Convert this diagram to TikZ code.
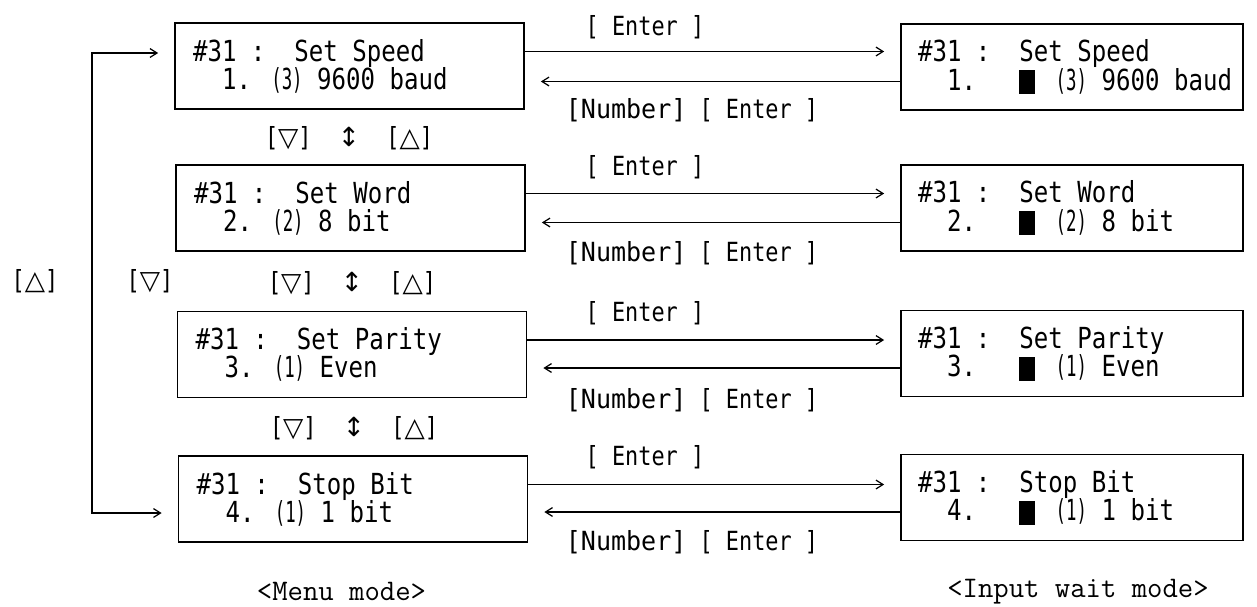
\documentclass[tikz,border=0pt]{standalone}
\usepackage{fontspec}
\usetikzlibrary{arrows.meta}
\newfontfamily\lcdfont[FakeStretch=0.83]{DejaVu Sans Mono}
\newfontfamily\lcdwide[FakeStretch=0.95]{DejaVu Sans Mono}
\newfontfamily\lcdnarrow[FakeStretch=0.6]{DejaVu Sans Mono}
\newfontfamily\symfont{DejaVu Sans}
\newcommand{\lcdsize}[1]{\lcdfont\fontsize{#1}{16}\selectfont\spaceskip=0.5em\relax}
\newcommand{\cursorblk}{\rule[-0.14em]{0.55em}{0.83em}}
\newcommand{\pnum}[1]{\hspace*{0.7em}{\lcdnarrow(#1)}~}
\newcommand{\tridown}{{\symfont ▽}}
\newcommand{\triup}{{\symfont △}}
\newcommand{\udarr}{{\symfont ↕}}
\begin{document}
\begin{tikzpicture}[x=0.02cm, y=-0.02cm,
  >={Straight Barb[length=4pt,width=5pt]},
  menubox/.style={draw, line width=1pt, minimum height=1.72cm, text width=6.26cm,
    inner xsep=0.36cm, inner ysep=0pt, align=left, font=\lcdsize{16.5},
    execute at begin node={\spaceskip=0.5em\relax}},
  waitbox/.style={menubox, text width=6.16cm, inner xsep=0.34cm},
  keylabel/.style={font=\lcdsize{15}, inner sep=0pt},
  movelabel/.style={font=\lcdsize{15}, inner sep=0pt},
  modelabel/.style={font=\ttfamily\fontsize{17}{18}\selectfont, inner sep=0pt},
  flow/.style={->, line width=0.7pt, shorten >=0.32cm},
]
\useasboundingbox (0,0) rectangle (1257,606);

% Menu mode screens
\node[menubox] (m1) at (349.5,66) {\#31 :~~Set Speed\\\hspace*{1em}1.\pnum{3}9600~baud};
\node[menubox] (m2) at (350.5,208) {\#31 :~~Set Word\\\hspace*{1em}2.\pnum{2}8~bit};
\node[menubox] (m3) at (352,354.5) {\#31 :~~Set Parity\\\hspace*{1em}3.\pnum{1}Even};
\node[menubox] (m4) at (353,499) {\#31 :~~Stop Bit\\\hspace*{1em}4.\pnum{1}1~bit};

% Input wait mode screens
\node[waitbox] (i1) at (1072,67) {\#31 :~~Set Speed\\\hspace*{1em}1.~~~\cursorblk\pnum{3}9600~baud};
\node[waitbox] (i2) at (1072,208) {\#31 :~~Set Word\\\hspace*{1em}2.~~~\cursorblk\pnum{2}8~bit};
\node[waitbox] (i3) at (1072,353.5) {\#31 :~~Set Parity\\\hspace*{1em}3.~~~\cursorblk\pnum{1}Even};
\node[waitbox] (i4) at (1072,497.5) {\#31 :~~Stop Bit\\\hspace*{1em}4.~~~\cursorblk\pnum{1}1~bit};

% Enter / Number keys between the two modes
\foreach \n in {1,...,4} {
  \draw[flow] ([yshift=0.29cm]m\n.east) -- ([yshift=0.29cm]m\n.east -| i\n.west);
  \draw[flow] ([yshift=-0.29cm]i\n.west) -- ([yshift=-0.29cm]i\n.west -| m\n.east);
}
\node[keylabel] (e1) at (645,27) {[ Enter ]};
\node[keylabel] (e2) at (645,167) {[ Enter ]};
\node[keylabel] (e3) at (645,313) {[ Enter ]};
\node[keylabel] (e4) at (645,457) {[ Enter ]};
\node[keylabel] (n1) at (692,110) {{\lcdwide[Number]} [ Enter ]};
\node[keylabel] (n2) at (692,253) {{\lcdwide[Number]} [ Enter ]};
\node[keylabel] (n3) at (692,400) {{\lcdwide[Number]} [ Enter ]};
\node[keylabel] (n4) at (692,542) {{\lcdwide[Number]} [ Enter ]};

% Up / down keys in the menu
\node[movelabel] (u1) at (349,138) {[\tridown]~~\udarr~~[\triup]};
\node[movelabel] (u2) at (352,283) {[\tridown]~~\udarr~~[\triup]};
\node[movelabel] (u3) at (354,428) {[\tridown]~~\udarr~~[\triup]};

% Wrap around loop
\coordinate (lp1) at (92,53);
\coordinate (lp4) at (92,513);
\draw[flow, <->, shorten <=0.32cm] (lp4 -| m4.west) -- (lp4) -- (lp1) -- (lp1 -| m1.west);
\node[movelabel] (wu) at (35,281) {[\triup]};
\node[movelabel] (wd) at (150,281) {[\tridown]};

% Mode names
\node[modelabel] (mm) at (341.5,591) {<Menu mode>};
\node[modelabel] (im) at (1078,592) {<Input wait mode>};
\end{tikzpicture}
\end{document}
